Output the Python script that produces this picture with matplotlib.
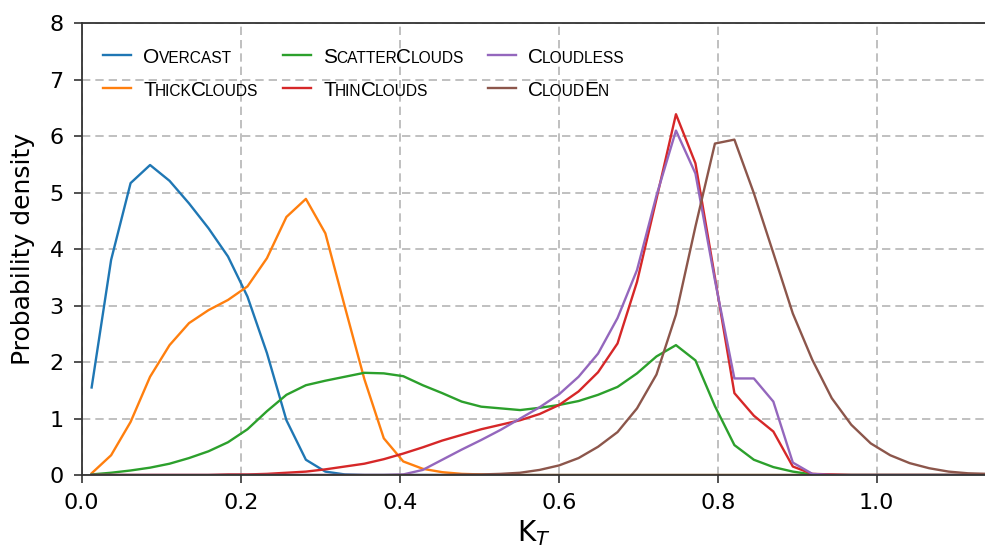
import numpy as np
import matplotlib
matplotlib.use("Agg")
import matplotlib.pyplot as plt
from matplotlib.lines import Line2D

# Clearness-index bin centres (K_T), 0.0245 wide, starting at 0.0125
kt = np.round(0.0125 + 0.0245 * np.arange(47), 4)

overcast = [1.55, 3.81, 5.17, 5.49, 5.21, 4.81, 4.37, 3.87, 3.16, 2.16, 0.97, 0.27, 0.06, 0.01,
            0, 0, 0, 0, 0, 0, 0, 0, 0, 0, 0, 0, 0, 0, 0, 0, 0, 0, 0, 0, 0, 0, 0, 0, 0, 0,
            0, 0, 0, 0, 0, 0, 0]
thick_clouds = [0.03, 0.35, 0.94, 1.74, 2.30, 2.69, 2.92, 3.10, 3.34, 3.84, 4.57, 4.89, 4.28, 2.98,
                1.70, 0.65, 0.24, 0.11, 0.05, 0.02, 0.01, 0, 0, 0, 0, 0, 0, 0, 0, 0, 0, 0, 0, 0,
                0, 0, 0, 0, 0, 0, 0, 0, 0, 0, 0, 0, 0]
scatter_clouds = [0.01, 0.04, 0.08, 0.13, 0.20, 0.30, 0.42, 0.58, 0.81, 1.13, 1.42, 1.59, 1.67, 1.74,
                  1.81, 1.80, 1.75, 1.59, 1.45, 1.30, 1.21, 1.18, 1.15, 1.19, 1.24, 1.31, 1.42, 1.56,
                  1.80, 2.10, 2.30, 2.03, 1.22, 0.53, 0.27, 0.14, 0.06, 0.01, 0, 0, 0, 0, 0, 0, 0,
                  0, 0]
thin_clouds = [0, 0, 0, 0, 0, 0, 0, 0.01, 0.01, 0.02, 0.04, 0.06, 0.10, 0.15, 0.20, 0.28, 0.38,
               0.49, 0.61, 0.71, 0.81, 0.89, 0.97, 1.08, 1.24, 1.48, 1.82, 2.33, 3.42, 4.89, 6.39,
               5.52, 3.50, 1.45, 1.05, 0.77, 0.15, 0.02, 0.01, 0, 0, 0, 0, 0, 0, 0, 0]
cloudless = [0, 0, 0, 0, 0, 0, 0, 0, 0, 0, 0, 0, 0, 0, 0, 0, 0.01, 0.09, 0.27, 0.45, 0.62, 0.80,
             1.00, 1.20, 1.43, 1.74, 2.15, 2.78, 3.63, 4.95, 6.10, 5.34, 3.45, 1.71, 1.71, 1.30,
             0.22, 0.02, 0, 0, 0, 0, 0, 0, 0, 0, 0]
cloud_en = [0, 0, 0, 0, 0, 0, 0, 0, 0, 0, 0, 0, 0, 0, 0, 0, 0, 0, 0, 0.01, 0.01, 0.02, 0.04, 0.09,
            0.17, 0.30, 0.50, 0.76, 1.18, 1.78, 2.84, 4.40, 5.87, 5.94, 4.99, 3.93, 2.86, 2.04,
            1.36, 0.89, 0.56, 0.35, 0.21, 0.12, 0.06, 0.03, 0.02]

names = ["Overcast", "ThickClouds", "ScatterClouds", "ThinClouds", "Cloudless", "CloudEn"]
series = [overcast, thick_clouds, scatter_clouds, thin_clouds, cloudless, cloud_en]
colors = ["#1f77b4", "#ff7f0e", "#2ca02c", "#d62728", "#9467bd", "#8c564b"]

x_ticks = [0.0, 0.2, 0.4, 0.6, 0.8, 1.0]
x_tick_labels = ["0.0", "0.2", "0.4", "0.6", "0.8", "1.0"]
y_ticks = [0, 1, 2, 3, 4, 5, 6, 7, 8]

W, H = 985, 553
fig = plt.figure(figsize=(W / 100, H / 100), dpi=100)
left_px, bottom_px, top_px = 81.7, 475.0, 23.3
ax = fig.add_axes([left_px / W, 1 - bottom_px / H, 1 - left_px / W, (bottom_px - top_px) / H])

for vals, col, name in zip(series, colors, names):
    ax.plot(kt, vals, color=col, lw=1.7, label=name)

ax.set_xlim(0, (W - left_px) / 795.0)
ax.set_ylim(0, 8)
ax.set_xticks(x_ticks)
ax.set_xticklabels(x_tick_labels)
ax.set_yticks(y_ticks)
ax.grid(True, color="#b5b5b5", linestyle=(0, (5, 3)), lw=1.2)
ax.spines["right"].set_visible(False)
for s in ("left", "top", "bottom"):
    ax.spines[s].set_color("#333333")
    ax.spines[s].set_linewidth(1.3)
ax.tick_params(labelsize=16, length=6, width=1.2, color="#333333", pad=7)
ax.set_ylabel("Probability density", fontsize=18)
ax.yaxis.set_label_coords(-(left_px - 35) / (W - left_px), 0.5)
ax.set_xlabel("K$_T$", fontsize=20, labelpad=4)

# Legend drawn by hand so labels can be set in small capitals
legend_family = ["Liberation Sans Narrow", "Liberation Sans"]
big_size, small_size = 15.0, 11.2
col_line_x = [103, 283, 488]
col_text_x = [143, 323, 528]
row_line_y = [55, 88]
row_base_y = [63, 96]

fig.canvas.draw()
renderer = fig.canvas.get_renderer()


def small_caps(x, y, label):
    pieces = []
    for ch in label:
        big = ch.isupper()
        if pieces and pieces[-1][1] == big:
            pieces[-1][0] += ch.upper()
        else:
            pieces.append([ch.upper(), big])
    for text, big in pieces:
        t = fig.text(x / W, 1 - y / H, text, fontsize=big_size if big else small_size,
                     family=legend_family, va="baseline", ha="left")
        x += t.get_window_extent(renderer).width - 0.8


for k, (name, col) in enumerate(zip(names, colors)):
    c, r = k // 2, k % 2
    ly = 1 - row_line_y[r] / H
    fig.add_artist(Line2D([col_line_x[c] / W, (col_line_x[c] + 28) / W], [ly, ly],
                          transform=fig.transFigure, color=col, lw=1.7))
    small_caps(col_text_x[c], row_base_y[r], name)

fig.savefig("out.png", dpi=100)
